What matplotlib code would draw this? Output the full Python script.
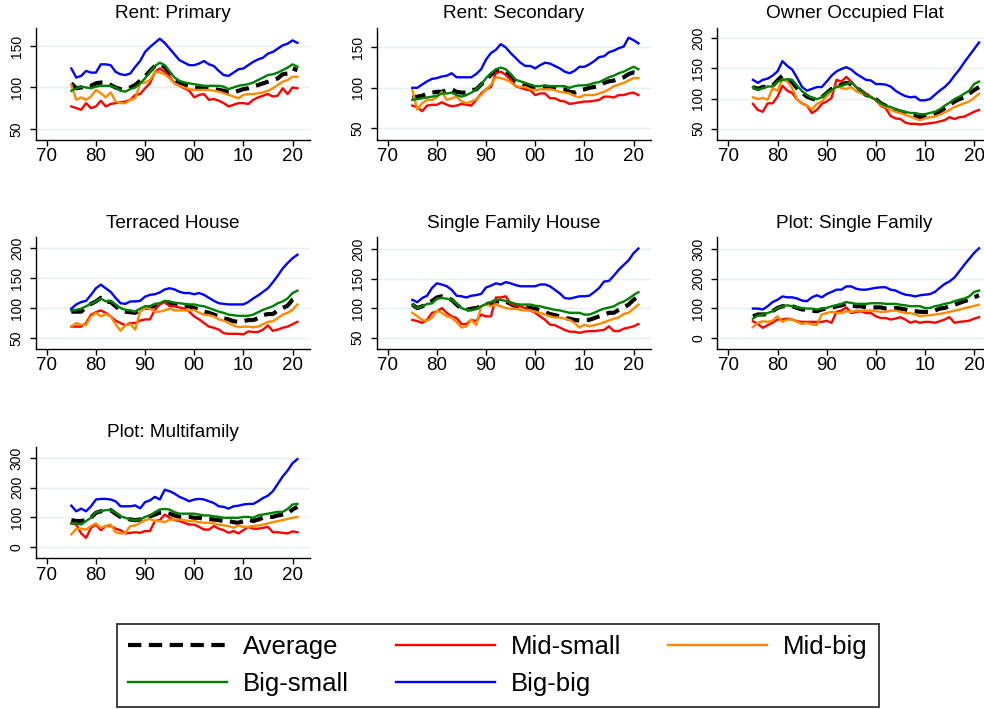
import matplotlib
matplotlib.use("Agg")
import matplotlib.pyplot as plt

plt.rcParams['font.family'] = ['Liberation Sans', 'DejaVu Sans']

years = list(range(1975, 2022))

titles = ["Rent: Primary", "Rent: Secondary", "Owner Occupied Flat",
          "Terraced House", "Single Family House", "Plot: Single Family",
          "Plot: Multifamily"]
series_names = ["Average", "Mid-small", "Mid-big", "Big-small", "Big-big"]
xtick_years = [1970, 1980, 1990, 2000, 2010, 2020]
xtick_labels = ["70", "80", "90", "00", "10", "20"]

# ---- Rent: Primary
rp_avg = [105,99,100,102,102,105,106,106,103,100, 98,98,100,103,108,113,120,126,128,125,
          117,110,105,103,102,100,99,99,98,98, 97,96,94,94,96,98,99,101,103,105, 107,109,111,116,117,123,121]
rp_ms = [77,75,73,81,75,77,84,77,80,81, 82,83,85,91,92,99,105,119,123,119,
         113,105,102,99,96,88,91,92,85,86, 84,81,77,79,81,81,80,85,88,90, 92,89,90,99,92,100,99]
rp_mb = [103,85,88,85,89,97,93,88,94,83, 81,81,85,87,105,106,109,119,118,116,
         111,105,102,100,98,97,97,97,97,96, 95,93,91,89,87,91,92,92,93,94, 96,99,103,107,109,113,113]
rp_bs = [96,99,101,100,99,101,102,102,102,100, 96,95,98,100,105,111,119,126,130,127,
         119,112,108,106,105,104,103,102,102,102, 102,101,98,100,102,103,104,106,109,112, 115,116,118,121,124,128,125]
rp_bb = [123,112,114,120,118,118,128,128,127,119, 116,115,117,125,132,143,149,154,159,154,
         147,140,133,130,127,127,129,132,128,126, 120,115,114,118,122,123,127,131,134,136, 141,143,147,151,153,157,154]

# ---- Rent: Secondary
rs_avg = [88,89,90,93,94,95,95,97,98,95, 94,94,97,98,104,110,116,121,122,120,
          115,108,105,103,101,100,101,101,100,99, 98,98,95,94,97,98,100,101,102,106, 108,109,111,113,117,119,118]
rs_ms = [78,76,71,78,79,79,82,79,77,78, 80,79,78,85,93,98,101,118,120,116,
         110,102,100,98,97,91,93,93,87,87, 84,83,80,81,82,83,83,84,85,89, 89,88,91,91,93,94,91]
rs_mb = [98,73,81,85,85,88,95,85,87,89, 83,81,83,86,91,98,104,113,112,110,
         107,102,101,101,98,97,98,98,98,97, 95,94,93,90,88,91,91,91,93,95, 98,102,104,106,109,112,112]
rs_bs = [85,86,87,88,89,90,93,93,94,91, 89,91,94,98,104,112,118,123,125,123,
         117,110,108,106,104,102,102,103,102,102, 102,102,100,102,103,103,104,106,107,110, 113,115,118,120,123,126,123]
rs_bb = [100,100,104,108,111,112,114,115,118,113, 113,113,113,117,123,135,143,147,154,150,
         143,137,131,127,127,124,128,131,130,127, 124,120,118,121,126,126,129,133,138,139, 144,146,149,151,162,159,155]

# ---- Owner Occupied Flat
of_avg = [119,116,119,120,121,130,138,132,127,117, 110,103,100,98,102,109,116,119,123,126,
          124,119,112,106,103,99,92,88,84,81, 78,76,73,71,69,70,71,74,78,84, 89,95,99,102,108,114,119]
of_ms = [91,81,78,92,92,103,121,113,109,98, 92,88,76,81,91,95,101,131,128,136,
         128,119,112,108,103,98,88,84,71,67, 66,60,58,58,57,58,59,60,62,64, 69,66,69,70,74,78,81]
of_mb = [102,99,101,98,117,113,132,128,117,98, 92,88,82,91,95,104,112,121,117,116,
         119,112,109,106,102,98,89,86,81,78, 76,73,70,67,64,67,69,70,73,77, 81,86,89,92,95,101,108]
of_bs = [119,114,117,120,120,128,131,132,131,121, 112,106,101,99,102,109,114,119,121,124,
         127,119,112,106,102,98,92,88,86,82, 80,78,76,76,74,74,76,78,82,88, 93,99,103,108,113,124,128]
of_bb = [131,126,131,133,138,145,162,154,148,134, 119,113,116,119,119,128,138,145,149,152,
         148,141,136,131,130,124,124,123,120,113, 108,104,102,103,97,97,99,106,113,119, 127,138,148,160,171,182,193]

# ---- Terraced House
th_avg = [94,94,94,101,107,111,117,111,110,103, 96,94,93,92,97,100,101,104,106,110,
          108,106,104,103,103,100,97,94,92,89, 86,83,81,78,77,78,80,80,83,88, 90,90,96,100,104,114,119]
th_ms = [69,69,69,75,89,93,96,92,86,79, 75,71,75,75,79,81,81,97,106,110,
         103,103,101,99,94,86,81,75,69,67, 64,58,57,57,57,56,61,60,60,64, 71,62,64,67,69,73,77]
th_mb = [69,75,72,72,86,92,86,90,86,73, 62,71,73,64,94,100,99,94,94,96,
         99,96,96,96,96,97,92,89,88,86, 81,79,75,71,68,69,69,68,69,73, 77,78,83,89,92,97,106]
th_bs = [96,97,99,103,107,111,116,111,112,106, 100,97,96,94,99,103,103,107,108,112,
         111,109,108,107,106,106,104,103,100,97, 94,92,89,88,87,87,87,89,93,97, 100,103,108,111,116,125,129]
th_bb = [99,106,110,112,122,133,139,133,127,117, 108,107,111,111,112,119,122,123,126,131,
         133,131,127,125,125,123,125,122,117,112, 108,107,106,106,106,106,110,116,121,127, 133,143,154,166,175,183,189]

# ---- Single Family House
sf_avg = [106,100,103,107,112,118,120,117,114,106, 99,97,99,100,103,107,108,112,110,111,
          107,103,101,101,100,99,96,93,90,88, 86,83,82,80,79,80,80,83,86,89, 92,92,97,101,106,114,120]
sf_ms = [80,78,75,80,92,94,100,92,86,83, 73,73,80,78,89,86,86,118,118,120,
         107,104,103,100,96,92,86,80,72,71, 67,63,60,60,58,60,61,61,62,63, 69,61,61,65,67,69,73]
sf_mb = [92,86,80,78,84,96,92,86,84,76, 67,69,80,71,103,107,103,106,103,100,
         99,99,97,96,96,94,92,89,86,84, 84,82,80,75,67,72,69,71,73,76, 79,82,84,90,92,99,106]
sf_bs = [106,100,103,107,108,116,117,116,114,108, 100,97,96,99,103,107,110,114,114,112,
         110,107,106,106,106,104,103,101,99,97, 96,94,92,92,92,89,89,92,96,99, 101,103,108,111,116,122,127]
sf_bb = [114,110,117,121,134,142,140,137,131,121, 120,118,121,122,124,135,138,142,140,144,
         142,139,137,137,137,137,140,140,137,131, 125,117,116,118,120,120,121,127,134,145, 146,155,165,173,181,193,201]

# ---- Plot: Single Family
ps_avg = [73,79,79,81,90,101,107,107,107,101, 96,96,92,90,96,99,101,107,110,115,
          110,107,107,103,103,103,103,99,99,101, 99,96,92,90,88,88,88,92,99,101, 107,112,118,124,129,137,144]
ps_ms = [56,47,34,43,51,62,62,65,62,56, 54,54,54,54,54,58,51,88,92,103,
         84,88,90,84,84,73,67,67,62,65, 70,62,51,56,51,54,54,51,56,62, 70,51,54,56,58,65,70]
ps_mb = [36,51,56,54,58,73,54,62,62,54, 47,51,45,43,79,84,88,84,84,90,
         88,92,92,92,92,90,88,88,92,92, 88,84,84,79,73,76,76,79,81,84, 88,92,95,100,104,108,112]
ps_bs = [65,76,79,84,90,101,107,110,107,103, 101,99,99,96,99,101,107,110,115,121,
         118,115,115,115,117,117,117,115,115,115, 112,110,107,107,107,101,101,107,110,115, 118,124,129,133,140,155,160]
ps_bb = [99,99,96,107,121,129,140,137,137,133, 126,124,137,144,137,148,155,163,163,174,
         174,166,163,163,166,169,171,171,163,160, 152,146,144,140,144,146,148,155,169,182, 191,204,225,247,267,287,303]

# ---- Plot: Multifamily
pm_avg = [90,87,87,90,98,115,120,120,124,112, 101,98,92,90,92,98,103,109,115,117,
          112,106,101,101,101,98,98,94,94,92, 90,87,87,83,81,87,92,87,92,98, 101,101,106,109,112,126,135]
pm_ms = [79,75,45,30,64,75,56,70,70,61, 56,45,47,49,47,53,53,87,90,109,
         98,90,87,81,75,75,67,58,58,70, 61,56,47,53,45,56,67,61,61,64, 67,49,49,47,45,52,49]
pm_mb = [42,61,61,58,70,79,64,70,75,49, 45,47,70,72,81,90,94,87,87,83,
         92,92,92,90,87,87,83,81,81,79, 75,72,70,64,72,67,67,70,72,75, 79,83,87,90,94,98,101]
pm_bs = [79,79,75,87,98,117,120,124,124,115, 103,98,92,90,92,101,106,117,126,128,
         126,117,112,112,112,112,109,106,106,103, 101,98,98,98,98,101,101,98,106,109, 112,115,118,118,128,143,145]
pm_bb = [139,120,129,120,137,160,162,162,160,154, 137,137,137,140,130,151,157,169,160,193,
         188,180,169,162,154,160,162,160,154,148, 137,135,129,137,139,143,145,145,154,165, 173,188,213,238,258,283,297]

panels = [
    (rp_avg, rp_ms, rp_mb, rp_bs, rp_bb),
    (rs_avg, rs_ms, rs_mb, rs_bs, rs_bb),
    (of_avg, of_ms, of_mb, of_bs, of_bb),
    (th_avg, th_ms, th_mb, th_bs, th_bb),
    (sf_avg, sf_ms, sf_mb, sf_bs, sf_bb),
    (ps_avg, ps_ms, ps_mb, ps_bs, ps_bb),
    (pm_avg, pm_ms, pm_mb, pm_bs, pm_bb),
]
yticks = [[50, 100, 150], [50, 100, 150], [50, 100, 150, 200],
          [50, 100, 150, 200], [50, 100, 150, 200], [0, 100, 200, 300], [0, 100, 200, 300]]
ylims = [(37, 172), (36, 174), (32, 217), (32, 218), (31, 220), (-37, 340), (-39, 339)]

colors = ["black", "#FF0000", "#FF8A00", "#008000", "#0000FF"]

W, H = 984, 709
fig = plt.figure(figsize=(W / 100, H / 100), dpi=100)

col_left = [35.7, 376.7, 717.3]
row_top = [28, 237.3, 446.7]
ax_w = 274.5
ax_h = 111.5

handles = []
for i, (title, data) in enumerate(zip(titles, panels)):
    r, c = divmod(i, 3)
    left = col_left[c] / W
    bottom = 1 - (row_top[r] + ax_h) / H
    ax = fig.add_axes([left, bottom, ax_w / W, ax_h / H])
    hs = []
    for k, (vals, col) in enumerate(zip(data, colors)):
        if k == 0:
            h, = ax.plot(years, vals, color=col, lw=3.0, dashes=(3.2, 1.8), zorder=3,
                         solid_capstyle='butt', dash_capstyle='butt')
        else:
            h, = ax.plot(years, vals, color=col, lw=1.7, zorder=3 + k)
        hs.append(h)
    if i == 0:
        handles = hs
    ax.set_xlim(1967.75, 2023.6)
    ax.set_ylim(*ylims[i])
    ax.set_xticks(xtick_years)
    ax.set_xticklabels(xtick_labels)
    ax.set_yticks(yticks[i])
    ax.set_yticklabels([str(v) for v in yticks[i]], rotation=90, va='center')
    ax.yaxis.grid(True, color='#E6EFF1', lw=1.0)
    ax.set_axisbelow(True)
    for s in ['top', 'right']:
        ax.spines[s].set_visible(False)
    for s in ['left', 'bottom']:
        ax.spines[s].set_linewidth(1.0)
        ax.spines[s].set_color('black')
    ax.tick_params(axis='x', length=4.5, width=1.0, labelsize=13.5, pad=1.5)
    ax.tick_params(axis='y', length=4.5, width=1.0, labelsize=10, pad=4)
    ax.set_title(title, fontsize=13.7, pad=7)

order = [0, 3, 1, 4, 2]
leg = fig.legend([handles[j] for j in order], [series_names[j] for j in order],
                 loc='lower center', bbox_to_anchor=(0.506, 0.003), ncol=3,
                 fontsize=18.5, frameon=True, fancybox=False, edgecolor='black',
                 handlelength=3.85, handletextpad=0.62, columnspacing=1.84,
                 borderpad=0.42, labelspacing=0.5, borderaxespad=0)
leg.get_frame().set_linewidth(1.3)

fig.savefig("out.png", dpi=100, facecolor='white')
